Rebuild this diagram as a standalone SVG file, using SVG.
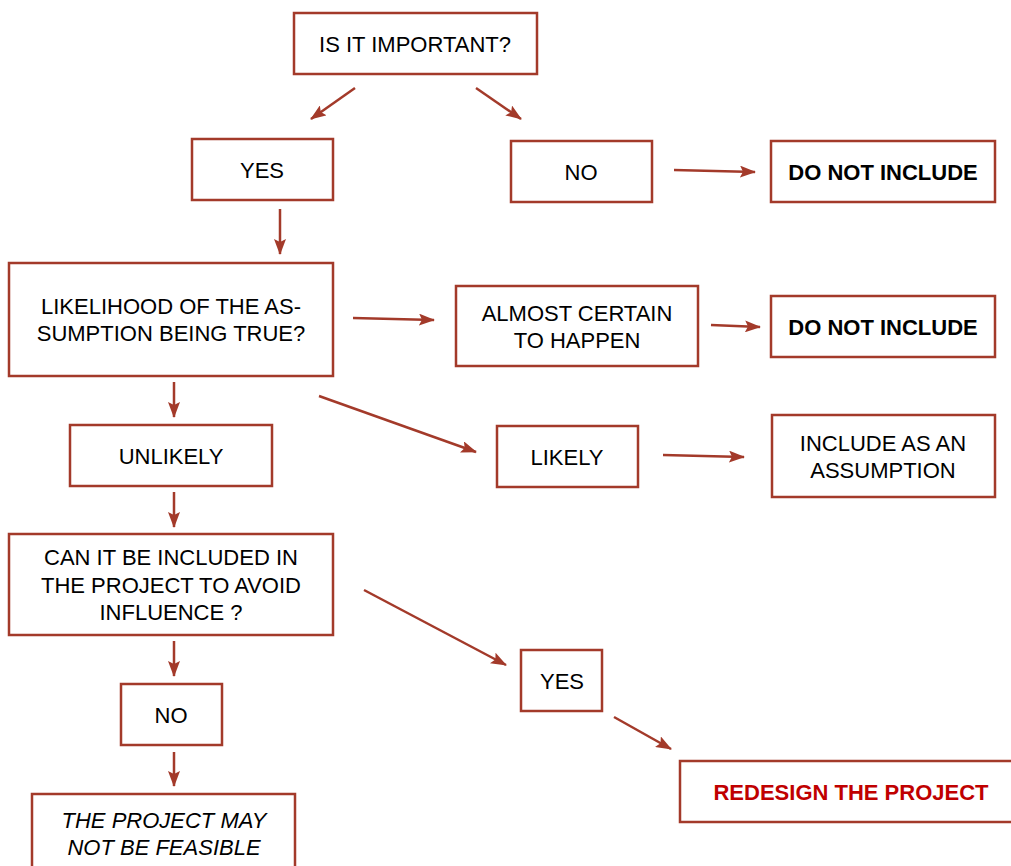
<svg xmlns="http://www.w3.org/2000/svg" width="1011" height="866" viewBox="0 0 1011 866">
<defs>
<marker id="ah" viewBox="0 0 16 12" refX="15" refY="6" markerWidth="16" markerHeight="12" markerUnits="userSpaceOnUse" orient="auto">
<path d="M0,0 L16,6 L0,12 L3,6 z" fill="#a33a2a"/>
</marker>
<style>
rect{fill:#fff;stroke:#a33a2a;stroke-width:2.5}
text{font-family:"Liberation Sans",Arial,sans-serif;font-size:22px;fill:#000;text-anchor:middle}
.b{font-weight:bold}
.r{fill:#c00000;font-weight:bold}
.i{font-style:italic}
#connectors line{stroke:#a33a2a;stroke-width:2.5;marker-end:url(#ah)}
</style>
</defs>
<rect x="0" y="0" width="1011" height="866" style="fill:#fff;stroke:none"/>
<g id="connectors">
<line x1="355" y1="88" x2="311" y2="119"/>
<line x1="476" y1="88" x2="521" y2="119"/>
<line x1="674" y1="170" x2="755" y2="172"/>
<line x1="280" y1="209" x2="280" y2="254"/>
<line x1="353" y1="318" x2="434" y2="320"/>
<line x1="711" y1="325" x2="760" y2="327"/>
<line x1="174" y1="382" x2="174" y2="417"/>
<line x1="319" y1="396" x2="476" y2="452"/>
<line x1="663" y1="455" x2="744" y2="457"/>
<line x1="174" y1="492" x2="174" y2="527"/>
<line x1="364" y1="590" x2="506" y2="665"/>
<line x1="174" y1="641" x2="174" y2="676"/>
<line x1="614" y1="717" x2="671" y2="749"/>
<line x1="174" y1="752" x2="174" y2="786"/>
</g>
<g id="n-important"><rect x="294" y="13" width="243" height="61"/><text x="415" y="52">IS IT IMPORTANT?</text></g>
<g id="n-yes1"><rect x="192" y="139" width="141" height="61"/><text x="262" y="178">YES</text></g>
<g id="n-no1"><rect x="511" y="141" width="141" height="61"/><text x="581" y="180">NO</text></g>
<g id="n-dni1"><rect x="771" y="141" width="224" height="61"/><text class="b" x="883" y="180">DO NOT INCLUDE</text></g>
<g id="n-likelihood"><rect x="9" y="263" width="324" height="113"/><text x="171" y="314">LIKELIHOOD OF THE AS-</text><text x="171" y="341">SUMPTION BEING TRUE?</text></g>
<g id="n-almost"><rect x="456" y="286" width="242" height="80"/><text x="577" y="321">ALMOST CERTAIN</text><text x="577" y="348">TO HAPPEN</text></g>
<g id="n-dni2"><rect x="771" y="296" width="224" height="61"/><text class="b" x="883" y="335">DO NOT INCLUDE</text></g>
<g id="n-unlikely"><rect x="70" y="425" width="202" height="61"/><text x="171" y="464">UNLIKELY</text></g>
<g id="n-likely"><rect x="497" y="426" width="141" height="61"/><text x="567" y="465">LIKELY</text></g>
<g id="n-include"><rect x="772" y="415" width="223" height="82"/><text x="883" y="451">INCLUDE AS AN</text><text x="883" y="478">ASSUMPTION</text></g>
<g id="n-can"><rect x="9" y="534" width="324" height="101"/><text x="171" y="565">CAN IT BE INCLUDED IN</text><text x="171" y="593">THE PROJECT TO AVOID</text><text x="171" y="620">INFLUENCE ?</text></g>
<g id="n-yes2"><rect x="521" y="650" width="81" height="61"/><text x="562" y="689">YES</text></g>
<g id="n-no2"><rect x="121" y="684" width="101" height="61"/><text x="171" y="723">NO</text></g>
<g id="n-redesign"><rect x="680" y="761" width="340" height="61"/><text class="r" x="851" y="800">REDESIGN THE PROJECT</text></g>
<g id="n-feasible"><rect x="32" y="794" width="263" height="80"/><text class="i" x="164" y="828">THE PROJECT MAY</text><text class="i" x="164" y="855">NOT BE FEASIBLE</text></g>
</svg>
